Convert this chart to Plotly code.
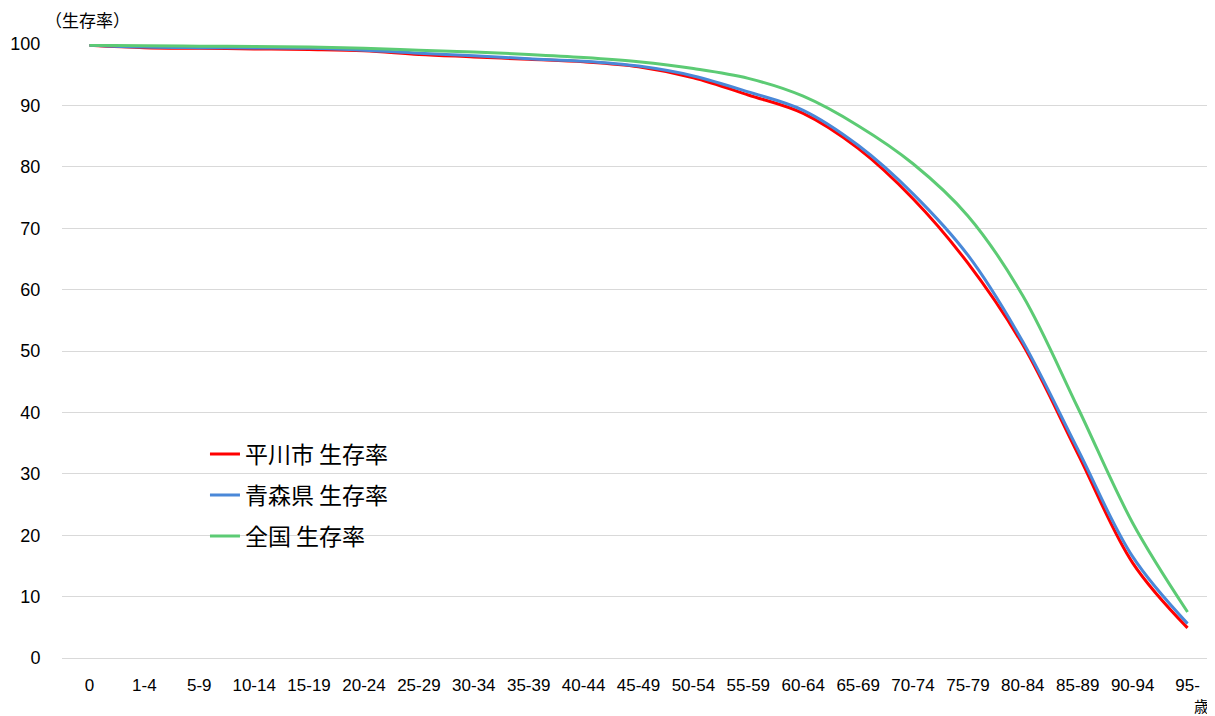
import plotly.graph_objects as go

categories = ["0", "1-4", "5-9", "10-14", "15-19", "20-24", "25-29", "30-34", "35-39",
              "40-44", "45-49", "50-54", "55-59", "60-64", "65-69", "70-74", "75-79",
              "80-84", "85-89", "90-94", "95-"]

hirakawa = [99.8, 99.4, 99.3, 99.2, 99.1, 98.9, 98.3, 97.9, 97.5, 97.1, 96.3, 94.5,
            91.7, 88.7, 83.0, 74.8, 64.3, 51.0, 33.3, 15.5, 4.9]
aomori = [99.8, 99.5, 99.4, 99.35, 99.3, 99.0, 98.5, 98.1, 97.6, 97.2, 96.4, 94.8,
          92.2, 89.2, 83.5, 75.6, 65.6, 51.5, 34.0, 16.5, 5.6]
zenkoku = [99.8, 99.7, 99.65, 99.6, 99.5, 99.3, 99.0, 98.7, 98.3, 97.8, 97.1, 96.0,
           94.4, 91.5, 86.7, 80.5, 72.0, 59.0, 40.8, 22.0, 7.5]

series_names = ["平川市 生存率", "青森県 生存率", "全国 生存率"]
series_values = [hirakawa, aomori, zenkoku]
series_colors = ["#FF0000", "#4A88D8", "#5CCB74"]

FONT = "Arial, 'Liberation Sans', 'Noto Sans CJK JP', sans-serif"

fig = go.Figure()
for i, (name, vals, col) in enumerate(zip(series_names, series_values, series_colors)):
    fig.add_trace(go.Scatter(
        x=categories, y=vals, name=name, mode="lines",
        line=dict(color=col, width=3, shape="spline", smoothing=1.0),
        legendgroup=f"g{i}",
    ))

fig.update_layout(
    width=1207, height=708,
    margin=dict(l=54, r=0, t=36, b=58),
    paper_bgcolor="white", plot_bgcolor="white",
    font=dict(family=FONT, size=18, color="#000000"),
    showlegend=True,
    legend=dict(
        x=0.124, y=0.367, xanchor="left", yanchor="top",
        bgcolor="rgba(0,0,0,0)", traceorder="grouped", tracegroupgap=8,
        font=dict(family="'Noto Sans CJK JP', Arial, sans-serif", size=23, color="#000000"),
        itemwidth=30,
    ),
    xaxis=dict(
        type="category", range=[-0.5, len(categories) - 0.5],
        showgrid=False, zeroline=False, showline=False,
        ticks="outside", ticklen=12, tickcolor="rgba(0,0,0,0)",
        tickfont=dict(size=17),
    ),
    yaxis=dict(
        range=[0, 100], tickvals=[0, 10, 20, 30, 40, 50, 60, 70, 80, 90, 100],
        showgrid=True, gridcolor="#D9D9D9", gridwidth=1,
        zeroline=True, zerolinecolor="#D9D9D9", zerolinewidth=1,
        showline=False, ticks="outside", ticklen=17, tickcolor="rgba(0,0,0,0)",
        tickfont=dict(size=18),
    ),
    annotations=[
        dict(text="（生存率）", xref="paper", yref="paper", x=0.0225, y=1.0,
             yshift=25, xanchor="center", yanchor="middle", showarrow=False,
             font=dict(family="'Noto Sans CJK JP', sans-serif", size=17, color="#000000")),
        dict(text="歳", xref="paper", yref="paper", x=0.988, y=0,
             yshift=-47, xanchor="center", yanchor="middle", showarrow=False,
             font=dict(family="'Noto Sans CJK JP', sans-serif", size=15, color="#000000")),
    ],
)

fig.write_html("out.html")
